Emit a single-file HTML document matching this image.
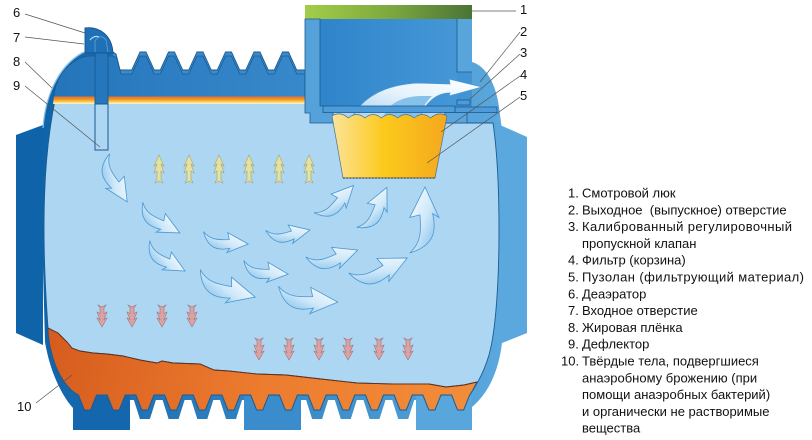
<!DOCTYPE html>
<html><head><meta charset="utf-8"><style>
html,body{margin:0;padding:0;background:#fff;}
svg{display:block;}
text{font-family:"Liberation Sans","DejaVu Sans",sans-serif;font-size:13px;fill:#111;}
</style></head><body>
<svg width="812" height="440" viewBox="0 0 812 440" xmlns="http://www.w3.org/2000/svg">
<defs>
<linearGradient id="shell" x1="40" y1="0" x2="500" y2="0" gradientUnits="userSpaceOnUse"><stop offset="0" stop-color="#0f63a9"/><stop offset="1" stop-color="#5aa8dd"/></linearGradient>
<linearGradient id="lid" x1="50" y1="0" x2="305" y2="0" gradientUnits="userSpaceOnUse"><stop offset="0" stop-color="#2474ba"/><stop offset="1" stop-color="#3789cb"/></linearGradient>
<linearGradient id="box" x1="320" y1="0" x2="457" y2="0" gradientUnits="userSpaceOnUse"><stop offset="0" stop-color="#2f84ca"/><stop offset="1" stop-color="#4597d6"/></linearGradient>
<linearGradient id="green" x1="305" y1="0" x2="472" y2="0" gradientUnits="userSpaceOnUse"><stop offset="0" stop-color="#a3cd48"/><stop offset="0.5" stop-color="#7ea93f"/><stop offset="1" stop-color="#4a7436"/></linearGradient>
<linearGradient id="fat" x1="0" y1="96.5" x2="0" y2="104" gradientUnits="userSpaceOnUse"><stop offset="0" stop-color="#e4732a"/><stop offset="0.35" stop-color="#ee8f2b"/><stop offset="0.6" stop-color="#f6bf2e"/><stop offset="0.85" stop-color="#fbe6a0"/><stop offset="1" stop-color="#fdf3cc"/></linearGradient>
<linearGradient id="basket" x1="332" y1="0" x2="447" y2="0" gradientUnits="userSpaceOnUse"><stop offset="0" stop-color="#fbe39a"/><stop offset="0.45" stop-color="#fcca1c"/><stop offset="1" stop-color="#f4a81e"/></linearGradient>
<linearGradient id="sludge" x1="48" y1="330" x2="470" y2="410" gradientUnits="userSpaceOnUse"><stop offset="0" stop-color="#d65c1e"/><stop offset="0.5" stop-color="#ec7b2e"/><stop offset="1" stop-color="#f28d3a"/></linearGradient>
<linearGradient id="ag" x1="0" y1="1" x2="1" y2="0"><stop offset="0" stop-color="#6fb5e7"/><stop offset="0.5" stop-color="#cfe8f9"/><stop offset="1" stop-color="#ffffff"/></linearGradient>
<linearGradient id="big" x1="0" y1="1" x2="1" y2="0"><stop offset="0" stop-color="#a5d3f3"/><stop offset="0.5" stop-color="#e6f3fc"/><stop offset="1" stop-color="#ffffff"/></linearGradient>
<path id="sw" d="M0,-12 C8,-3 17,-3 30,-4 L28,-12 L52,0 L28,11 L31,6 C18,9 6,8 0,-12 Z" fill="url(#ag)" stroke="#4a97d2" stroke-width="0.8" vector-effect="non-scaling-stroke"/>
<path id="ya" d="M0,0 L5,11 L2,9 L5,18 L2,16 L2,24 L4,28 L0,26 L-4,28 L-2,24 L-2,16 L-5,18 L-2,9 L-5,11 Z" fill="#e4e2a2" stroke="#a9a56a" stroke-width="0.6"/>
<path id="pa" d="M0,22 L5,13 L2,14.5 L5,7 L2,8.5 L2,3 L4,0 L0,2 L-4,0 L-2,3 L-2,8.5 L-5,7 L-2,14.5 L-5,13 Z" fill="#d9a3a6" stroke="#a87275" stroke-width="0.6"/>
</defs>

<!-- flanges -->
<path d="M16,135 L43,125 L43,345 L16,333 Z" fill="#0f63a9"/>
<path d="M500,125 L527,137 L527,333 L502,343 Z" fill="#5aa8dd"/>

<!-- silhouette -->
<path fill="url(#shell)" d="M82,53 L85,52 L85,28 C100,26 112,36 113,52 L116,54 L120,70 L131.75,70 L140,52 L146,52 L154.25,70 L160.25,70 L168.5,52 L174.5,52 L182.75,70 L188.75,70 L197,52 L203,52 L211.25,70 L217.25,70 L225.5,52 L231.5,52 L239.75,70 L245.75,70 L254,52 L260,52 L268.25,70 L274.25,70 L282.5,52 L288.5,52 L296.75,70 L305,70 L305,19 L472,19 L472,62 C486,66 496,84 499,107 L502,130 L503,230 L502,343 C499,368 490,392 472,407 L471.6,400 L465.6,419 L455.6,419 L449.6,400 L442.9,400 L436.9,419 L426.9,419 L420.9,400 L414.2,400 L408.2,419 L398.2,419 L392.2,400 L385.5,400 L379.5,419 L369.5,419 L363.5,400 L356.8,400 L350.8,419 L340.8,419 L334.8,400 L328.1,400 L322.1,419 L312.1,419 L306.1,400 L299.4,400 L293.4,419 L283.4,419 L277.4,400 L270.7,400 L264.7,419 L254.7,419 L248.7,400 L242,400 L236,419 L226,419 L220,400 L213.3,400 L207.3,419 L197.3,419 L191.3,400 L184.6,400 L178.6,419 L168.6,419 L162.6,400 L155.9,400 L149.9,419 L139.9,419 L133.9,400 L127.2,400 L121.2,419 L111.2,419 L105.2,400 L98.5,400 L92.5,419 L82.5,419 L76.5,400 L73,408 C62,396 50,372 45,342 L42,230 L43,128 C45,100 56,68 82,53 Z"/>

<!-- feet -->
<rect x="73" y="396" width="57" height="34" fill="#1467ad"/>
<rect x="244" y="396" width="57" height="34" fill="#3a8ccd"/>
<rect x="416" y="396" width="56" height="34" fill="#58a6dc"/>

<!-- water -->
<path fill="#acd6f2" stroke="#1d5b92" stroke-width="0.9" d="M55,100 L445,100 L445,123 L493,123 C497,150 499,190 499,230 C499,280 496,330 489,355 C484,372 476,386 469.6,395 L463.6,410 L457.6,410 L451.6,395 L440.9,395 L434.9,410 L428.9,410 L422.9,395 L412.2,395 L406.2,410 L400.2,410 L394.2,395 L383.5,395 L377.5,410 L371.5,410 L365.5,395 L354.8,395 L348.8,410 L342.8,410 L336.8,395 L326.1,395 L320.1,410 L314.1,410 L308.1,395 L297.4,395 L291.4,410 L285.4,410 L279.4,395 L268.7,395 L262.7,410 L256.7,410 L250.7,395 L240,395 L234,410 L228,410 L222,395 L211.3,395 L205.3,410 L199.3,410 L193.3,395 L182.6,395 L176.6,410 L170.6,410 L164.6,395 L153.9,395 L147.9,410 L141.9,410 L135.9,395 L125.2,395 L119.2,410 L113.2,410 L107.2,395 L96.5,395 L90.5,410 L84.5,410 L78.5,395 C68,390 58,375 53,358 C50,348 48,338 48,328 C46,300 44,260 44,230 C44,180 47,140 55,100 Z"/>

<!-- sludge -->
<path fill="url(#sludge)" stroke="#1d5b92" stroke-width="0.9" d="M48,328 L58,333 L67,342 L72,348 L80,351 L93,353 L107,354 L123,356 L140,360 L157,363 L162,361 L173,363 L200,364 L214,370 L229,371 L257,374 L286,375 L321,379 L357,383 L393,384 L429,384 L446,387 L464,385 L477,382 C474,388 472,392 469.6,395 L463.6,410 L457.6,410 L451.6,395 L440.9,395 L434.9,410 L428.9,410 L422.9,395 L412.2,395 L406.2,410 L400.2,410 L394.2,395 L383.5,395 L377.5,410 L371.5,410 L365.5,395 L354.8,395 L348.8,410 L342.8,410 L336.8,395 L326.1,395 L320.1,410 L314.1,410 L308.1,395 L297.4,395 L291.4,410 L285.4,410 L279.4,395 L268.7,395 L262.7,410 L256.7,410 L250.7,395 L240,395 L234,410 L228,410 L222,395 L211.3,395 L205.3,410 L199.3,410 L193.3,395 L182.6,395 L176.6,410 L170.6,410 L164.6,395 L153.9,395 L147.9,410 L141.9,410 L135.9,395 L125.2,395 L119.2,410 L113.2,410 L107.2,395 L96.5,395 L90.5,410 L84.5,410 L78.5,395 C68,390 58,375 53,358 C50,348 48,338 48,328 Z"/>
<path fill="none" stroke="#6b2e12" stroke-width="0.9" d="M48,328 L58,333 L67,342 L72,348 L80,351 L93,353 L107,354 L123,356 L140,360 L157,363 L162,361 L173,363 L200,364 L214,370 L229,371 L257,374 L286,375 L321,379 L357,383 L393,384 L429,384 L446,387 L464,385 L477,382"/>

<!-- rib band + lid zone -->
<path fill="#3a8ccd" d="M113,52 L116,54 L120,70 L131.75,70 L140,52 L146,52 L154.25,70 L160.25,70 L168.5,52 L174.5,52 L182.75,70 L188.75,70 L197,52 L203,52 L211.25,70 L217.25,70 L225.5,52 L231.5,52 L239.75,70 L245.75,70 L254,52 L260,52 L268.25,70 L274.25,70 L282.5,52 L288.5,52 L296.75,70 L305,70 L305,97 L113,97 Z"/>
<path fill="url(#lid)" stroke="#1b5a92" stroke-width="0.8" d="M54,97 C55,82 62,68 78,59 C84,56 88,56 92,56 L113,56 L117,58 L121,74 L131.75,74 L140,56 L146,56 L154.25,74 L160.25,74 L168.5,56 L174.5,56 L182.75,74 L188.75,74 L197,56 L203,56 L211.25,74 L217.25,74 L225.5,56 L231.5,56 L239.75,74 L245.75,74 L254,56 L260,56 L268.25,74 L274.25,74 L282.5,56 L288.5,56 L296.75,74 L305,74 L305,97 Z"/>
<path fill="none" stroke="#1b5a92" stroke-width="0.9" d="M113,52 L116,54 L120,70 L131.75,70 L140,52 L146,52 L154.25,70 L160.25,70 L168.5,52 L174.5,52 L182.75,70 L188.75,70 L197,52 L203,52 L211.25,70 L217.25,70 L225.5,52 L231.5,52 L239.75,70 L245.75,70 L254,52 L260,52 L268.25,70 L274.25,70 L282.5,52 L288.5,52 L296.75,70 L305,70"/>
<path fill="none" stroke="#86c1ea" stroke-width="1.3" d="M43,128 C45,100 56,68 82,53 L85,52"/>

<!-- fat layer -->
<path fill="url(#fat)" d="M54,96.5 L305,96.5 L305,104 L53,104 Z"/>

<!-- hatch -->
<rect x="305" y="5" width="167" height="14" fill="url(#green)"/>
<rect x="320" y="19" width="137" height="88" fill="url(#box)"/>
<rect x="457" y="19" width="15" height="53" fill="#58a5dc"/>
<rect x="457" y="72" width="15" height="35" fill="#4293d3"/>
<path d="M305,19 L320,19 L320,106 L333,106 L333,123 L310,123 L310,113 L305,113 Z" fill="#55a1da" stroke="#1d5b92" stroke-width="0.8"/>
<path d="M457,19 L457,72 L472,72" fill="none" stroke="#1d5b92" stroke-width="0.8"/>
<rect x="445" y="112.5" width="22" height="10.5" fill="#5aa6dc" stroke="#1d5b92" stroke-width="0.8"/>
<rect x="455" y="107" width="42" height="5.5" fill="#4d9bd8" stroke="#1d5b92" stroke-width="0.8"/>
<rect x="457" y="100" width="13" height="5" fill="#4d9bd8" stroke="#1d5b92" stroke-width="0.8"/>

<!-- big outlet arrow -->
<path d="M352,118 C362,97 385,85 417,83 L450,84 L449,79 L482,87 L449,96 L450,93 C436,93 425,103 420,118 Z" fill="url(#big)" stroke="#4a97d2" stroke-width="0.8"/>
<path d="M383,118 C388,104 400,97 420,96 L432,96 C425,103 421,110 420,118 Z" fill="#86c1ea"/>
<rect x="323" y="106" width="132" height="6.5" fill="#4d9bd8" stroke="#1d5b92" stroke-width="0.8"/>

<!-- basket -->
<path d="M332,116 Q340.2,111 348.4,118 Q356.6,111 364.9,118 Q373.1,111 381.3,118 Q389.5,111 397.7,118 Q405.9,111 414.1,118 Q422.3,111 430.6,118 Q438.8,111 447,116 L435,178 L343,178 Z" fill="url(#basket)" stroke="#4d6f8f" stroke-width="0.7"/>
<line x1="343" y1="178" x2="435" y2="178" stroke="#333" stroke-width="1" stroke-dasharray="2,1.2"/>

<!-- deaerator pipe and cap -->
<rect x="95" y="52" width="13" height="52" fill="#2676bb" stroke="#1b5a92" stroke-width="0.9"/>
<rect x="95" y="104" width="13" height="46" fill="#acd6f2" stroke="#1b5a92" stroke-width="1"/>
<path d="M85,53 L85,28 C100,26 112,36 113,53 Z" fill="#1f70b6" stroke="#15558f" stroke-width="0.9"/>
<path d="M95,52 L95,41 Q100,33 106,40 L108,52" fill="none" stroke="#4c9ad6" stroke-width="1"/>
<path d="M90,40 Q94,35 99,37" fill="none" stroke="#bfe0f6" stroke-width="1.1"/>

<!-- swirl arrows -->
<use href="#sw" transform="translate(100,160) rotate(57) scale(0.96)"/>
<use href="#sw" transform="translate(138,212) rotate(26.6) scale(0.9)"/>
<use href="#sw" transform="translate(145,250) rotate(27.7) scale(0.87)"/>
<use href="#sw" transform="translate(203,242) rotate(2.5) scale(0.87)"/>
<use href="#sw" transform="translate(268,240) rotate(-13.4) scale(0.83)"/>
<use href="#sw" transform="translate(243,271) rotate(4) scale(0.87)"/>
<use href="#sw" transform="translate(197,283) rotate(13.6) scale(1.15)"/>
<use href="#sw" transform="translate(278,300) rotate(2) scale(1.15)"/>
<use href="#sw" transform="translate(310,268) rotate(-20.6) scale(0.98)"/>
<use href="#sw" transform="translate(355,285) rotate(-27.4) scale(1.13)"/>
<use href="#sw" transform="translate(322,220) rotate(-47.6) scale(0.9)"/>
<use href="#sw" transform="translate(367,232) rotate(-66) scale(0.94)"/>
<use href="#sw" transform="translate(425,253) rotate(-90) scale(1.27)"/>

<!-- yellow up arrows -->
<use href="#ya" transform="translate(159,155)"/>
<use href="#ya" transform="translate(189,155)"/>
<use href="#ya" transform="translate(219,155)"/>
<use href="#ya" transform="translate(249,155)"/>
<use href="#ya" transform="translate(279,155)"/>
<use href="#ya" transform="translate(309,155)"/>

<!-- pink down arrows -->
<use href="#pa" transform="translate(102,305)"/>
<use href="#pa" transform="translate(132,305)"/>
<use href="#pa" transform="translate(162,305)"/>
<use href="#pa" transform="translate(192,305)"/>
<use href="#pa" transform="translate(259,338)"/>
<use href="#pa" transform="translate(289,338)"/>
<use href="#pa" transform="translate(319,338)"/>
<use href="#pa" transform="translate(348,338)"/>
<use href="#pa" transform="translate(379,338)"/>
<use href="#pa" transform="translate(408,338)"/>

<!-- leader lines -->
<g stroke="#555" stroke-width="0.7">
<line x1="25" y1="14" x2="85" y2="33"/>
<line x1="25" y1="37" x2="84" y2="44"/>
<line x1="25" y1="62" x2="52" y2="88"/>
<line x1="25" y1="86" x2="100" y2="147"/>
<line x1="36" y1="403" x2="72" y2="375"/>
<line x1="472" y1="11" x2="516" y2="11"/>
<line x1="520" y1="32" x2="480" y2="82"/>
<line x1="520" y1="54" x2="470" y2="99"/>
<line x1="520" y1="76" x2="441" y2="132"/>
<line x1="520" y1="97" x2="427" y2="163"/>
</g>

<!-- labels -->
<text x="13" y="17">6</text>
<text x="13" y="42">7</text>
<text x="13" y="66">8</text>
<text x="13" y="90">9</text>
<text x="17" y="411">10</text>
<text x="520" y="14">1</text>
<text x="520" y="36">2</text>
<text x="520" y="57">3</text>
<text x="520" y="79">4</text>
<text x="520" y="100">5</text>

<!-- legend -->
<text x="568" y="197.5">1.</text><text x="582" y="197.5">Смотровой люк</text>
<text x="568" y="214.3">2.</text><text x="582" y="214.3" style="white-space:pre">Выходное  (выпускное) отверстие</text>
<text x="568" y="231.1">3.</text><text x="582" y="231.1" textLength="210" lengthAdjust="spacing">Калиброванный регулировочный</text>
<text x="582" y="247.9">пропускной клапан</text>
<text x="568" y="264.7">4.</text><text x="582" y="264.7">Фильтр (корзина)</text>
<text x="568" y="281.5">5.</text><text x="582" y="281.5" textLength="222" lengthAdjust="spacing">Пузолан (фильтрующий материал)</text>
<text x="568" y="298.3">6.</text><text x="582" y="298.3">Деаэратор</text>
<text x="568" y="315.1">7.</text><text x="582" y="315.1">Входное отверстие</text>
<text x="568" y="331.9">8.</text><text x="582" y="331.9">Жировая плёнка</text>
<text x="568" y="348.7">9.</text><text x="582" y="348.7">Дефлектор</text>
<text x="561" y="365.5">10.</text><text x="582" y="365.5">Твёрдые тела, подвергшиеся</text>
<text x="582" y="382.3">анаэробному брожению (при</text>
<text x="582" y="399.1">помощи анаэробных бактерий)</text>
<text x="582" y="415.9">и органически не растворимые</text>
<text x="582" y="432.7">вещества</text>
</svg>
</body></html>
